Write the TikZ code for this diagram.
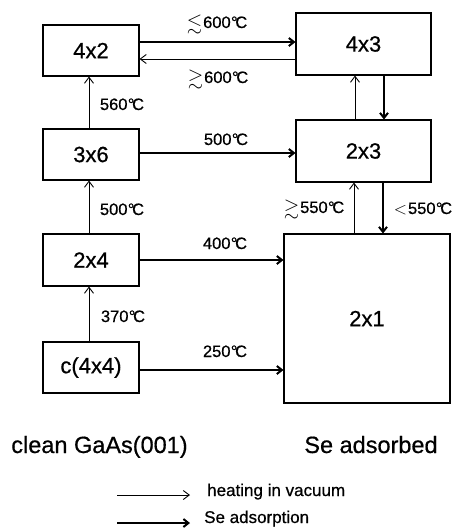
\documentclass[tikz,border=0pt]{standalone}
\usepackage{fontspec}
\setmainfont{Liberation Sans}[FakeBold=0.6]
\usepackage{amsmath,amssymb}
\usetikzlibrary{arrows.meta}
\newcommand\dC{\kern.02em°\kern-.14em C}
\newcommand\lsim{\raisebox{-1.5pt}{\scalebox{1.2}{$\boldsymbol{\lesssim}$}}\kern1pt}
\newcommand\gsim{\raisebox{-1.5pt}{\scalebox{1.2}{$\boldsymbol{\gtrsim}$}}\kern1pt}
\begin{document}
\begin{tikzpicture}[x=1pt,y=-1pt,
  box/.style={draw,line width=1.1pt,inner sep=0pt,font=\fontsize{22}{22}\selectfont},
  temp/.style={anchor=base,inner sep=0pt,font=\fontsize{16.5}{16.5}\selectfont},
  big/.style={anchor=base,inner sep=0pt,font=\fontsize{23.5}{24}\selectfont},
  leg/.style={anchor=base west,inner sep=0pt,font=\fontsize{17}{17}\selectfont},
  heat/.style={line width=0.9pt,-{Straight Barb[length=6pt,width=9pt]}},
  ads/.style={line width=2pt,-{Straight Barb[length=5pt,width=8pt]}},
]
\useasboundingbox (0,0) rectangle (453,531);
% boxes
\node[box,minimum width=96pt,minimum height=51pt] (n42) at (91,50.5) {4x2};
\node[box,minimum width=96pt,minimum height=51pt] (n36) at (91,154.5) {3x6};
\node[box,minimum width=96pt,minimum height=52pt] (n24) at (91,260) {2x4};
\node[box,minimum width=96pt,minimum height=51pt] (n44) at (91,367.5) {c(4x4)};
\node[box,minimum width=135pt,minimum height=62pt] (n43) at (363.5,44) {4x3};
\node[box,minimum width=135pt,minimum height=62pt] (n23) at (363.5,151) {2x3};
\node[box,minimum width=166pt,minimum height=169pt] (n21) at (367,318.5) {2x1};
% connectors
\draw[ads] (n42.east |- 0,42) -- (n43.west |- 0,42);
\draw[heat] (n43.west |- 0,59) -- (n42.east |- 0,59);
\draw[heat] (n36.north -| 89,0) -- (n42.south -| 89,0);
\draw[ads] (n36.east |- 0,153) -- (n23.west |- 0,153);
\draw[heat] (n23.north -| 355,0) -- (n43.south -| 355,0);
\draw[ads] (n43.south -| 384,0) -- (n23.north -| 384,0);
\draw[heat] (n21.north -| 354,0) -- (n23.south -| 354,0);
\draw[ads] (n23.south -| 383,0) -- (n21.north -| 383,0);
\draw[heat] (n24.north -| 89,0) -- (n36.south -| 89,0);
\draw[ads] (n24.east) -- (n21.west |- n24.east);
\draw[heat] (n44.north -| 89,0) -- (n24.south -| 89,0);
\draw[ads] (n44.east |- 0,370) -- (n21.west |- 0,370);
% labels
\node[temp] (t1) at (217,28) {\lsim600\dC};
\node[temp] (t2) at (218,83) {\gsim600\dC};
\node[temp] (t3) at (122,110) {560\dC};
\node[temp] (t4) at (226,145) {500\dC};
\node[temp] (t5) at (122,215) {500\dC};
\node[temp] (t6) at (314,213) {\gsim550\dC};
\node[temp] (t7) at (423,214) {$<$\kern1pt550\dC};
\node[temp] (t8) at (225,249) {400\dC};
\node[temp] (t9) at (123,322) {370\dC};
\node[temp] (t10) at (225,357) {250\dC};
\node[big] (cl) at (99.5,453) {clean GaAs(001)};
\node[big] (se) at (371,453) {Se adsorbed};
% legend
\coordinate (l1a) at (117,495);
\coordinate (l1b) at (190,495);
\draw[heat] (l1a) -- (l1b);
\node[leg] (h) at (207,496) {heating in vacuum};
\coordinate (l2a) at (117,523);
\coordinate (l2b) at (190,523);
\draw[ads] (l2a) -- (l2b);
\node[leg] (s) at (204,523) {Se adsorption};
\end{tikzpicture}
\end{document}
